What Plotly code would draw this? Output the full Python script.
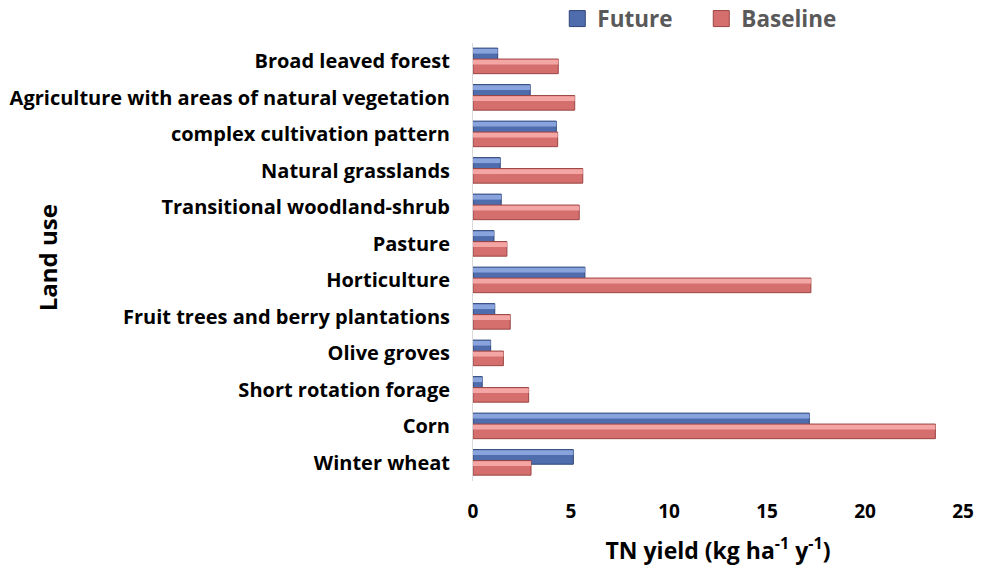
import plotly.graph_objects as go

categories = [
    "Broad leaved forest",
    "Agriculture with areas of natural vegetation",
    "complex cultivation pattern",
    "Natural grasslands",
    "Transitional woodland-shrub",
    "Pasture",
    "Horticulture",
    "Fruit trees and berry plantations",
    "Olive groves",
    "Short rotation forage",
    "Corn",
    "Winter wheat",
]
future = [1.26, 2.92, 4.25, 1.39, 1.44, 1.07, 5.71, 1.11, 0.90, 0.47, 17.16, 5.12]
baseline = [4.35, 5.19, 4.32, 5.60, 5.42, 1.73, 17.24, 1.90, 1.55, 2.84, 23.59, 2.96]
x_ticks = [0, 5, 10, 15, 20, 25]

FONT = "'Open Sans', sans-serif"
FUT_C, FUT_L, FUT_D = "#4f6cad", "#89a3dd", "#2f4679"
BAS_C, BAS_L, BAS_D = "#d46f6e", "#f4a6a5", "#9a4544"

fig = go.Figure()

# Future (drawn first, underneath)
fig.add_trace(go.Bar(
    y=categories, x=future, orientation="h", name="Future", showlegend=False,
    offset=-0.36, width=0.40,
    marker=dict(color=FUT_C, line=dict(color=FUT_D, width=1)),
))
fig.add_trace(go.Bar(
    y=categories, x=future, orientation="h", showlegend=False, hoverinfo="skip",
    offset=-0.34, width=0.13,
    marker=dict(color=FUT_L, line=dict(width=0)),
))
# Baseline (on top)
fig.add_trace(go.Bar(
    y=categories, x=baseline, orientation="h", name="Baseline", showlegend=False,
    offset=-0.06, width=0.40,
    marker=dict(color=BAS_C, line=dict(color=BAS_D, width=1)),
))
fig.add_trace(go.Bar(
    y=categories, x=baseline, orientation="h", showlegend=False, hoverinfo="skip",
    offset=-0.04, width=0.13,
    marker=dict(color=BAS_L, line=dict(width=0)),
))
# legend entries (square swatches)
for name, col, dk in [("Future", FUT_C, FUT_D), ("Baseline", BAS_C, BAS_D)]:
    fig.add_trace(go.Scatter(
        x=[None], y=[None], mode="markers", name=name,
        marker=dict(symbol="square", size=16, color=col, line=dict(color=dk, width=1)),
    ))

fig.update_layout(
    width=981, height=569,
    margin=dict(l=473, r=18, t=43, b=88, autoexpand=False),
    plot_bgcolor="white", paper_bgcolor="white",
    barmode="overlay",
    font=dict(family=FONT, color="black"),
    legend=dict(
        orientation="h", x=0.172, y=1.104, xanchor="left", yanchor="top",
        font=dict(size=22.5, color="#595959", family=FONT, weight="bold"),
        traceorder="normal", itemwidth=30, entrywidth=99,
        bgcolor="rgba(0,0,0,0)",
    ),
    xaxis=dict(
        range=[0, 25], tickvals=x_ticks, showgrid=False, zeroline=False,
        showline=False, ticks="", ticklabelstandoff=17,
        tickfont=dict(size=19, family=FONT, weight="bold", color="black"),
        title=dict(text="TN yield (kg ha<sup>-1</sup> y<sup>-1</sup>)",
                   font=dict(size=23, family=FONT, weight="bold", color="black"),
                   standoff=19),
    ),
    yaxis=dict(
        categoryorder="array", categoryarray=categories, autorange="reversed",
        showgrid=False, zeroline=False, showline=True, linecolor="#d9d9d9", linewidth=1,
        ticks="", ticklabelstandoff=18,
        tickfont=dict(size=20, family=FONT, weight="bold", color="black"),
    ),
    annotations=[dict(
        text="Land use", xref="paper", yref="paper", x=-0.869, y=0.509,
        xanchor="center", yanchor="middle", textangle=-90, showarrow=False,
        font=dict(size=24, family=FONT, weight="bold", color="black"),
    )],
)

fig.write_html(
    "out.html",
    config={"displayModeBar": False},
    post_script="document.body.style.margin='0';document.body.style.overflow='hidden';",
)
